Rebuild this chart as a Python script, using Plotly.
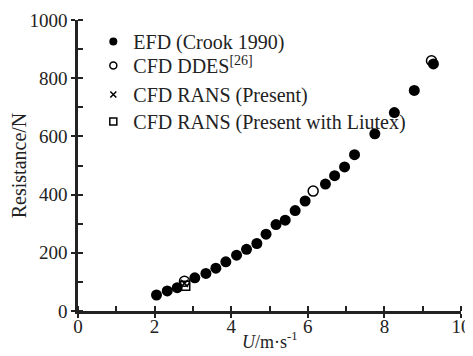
import plotly.graph_objects as go

efd_u = [2.05, 2.33, 2.59, 3.05, 3.34, 3.60, 3.86, 4.14, 4.40, 4.67, 4.91, 5.17, 5.41, 5.67, 5.93,
         6.46, 6.70, 6.96, 7.22, 7.75, 8.26, 8.78, 9.28]
efd_r = [55, 69, 80, 114, 129, 147, 169, 192, 212, 232, 264, 297, 312, 345, 378,
         436, 465, 495, 537, 609, 682, 758, 849]
ddes_u = [2.78, 6.14, 9.23]
ddes_r = [102, 412, 860]
rans_u = [2.78]
rans_r = [95]
liutex_u = [2.80]
liutex_r = [87]

names = ["EFD (Crook 1990)", "CFD DDES<sup>[26]</sup>", "CFD RANS (Present)", "CFD RANS (Present with Liutex)"]
x_ticks = [0, 2, 4, 6, 8, 10]
y_ticks = [0, 200, 400, 600, 800, 1000]

FONT = "Liberation Serif"
fig = go.Figure()

styles = [
    dict(symbol="circle", color="black", size=11, line=dict(width=0)),
    dict(symbol="circle-open", color="black", size=10, line=dict(width=1.5, color="black")),
    dict(symbol="x-thin-open", color="black", size=7, line=dict(width=1.5, color="black")),
    dict(symbol="square-open", color="black", size=9, line=dict(width=1.5, color="black")),
]
legend_styles = [
    dict(symbol="circle", color="black", size=8, line=dict(width=0)),
    dict(symbol="circle-open", color="black", size=7, line=dict(width=1.5, color="black")),
    dict(symbol="x-thin-open", color="black", size=6, line=dict(width=1.5, color="black")),
    dict(symbol="square-open", color="black", size=7, line=dict(width=1.5, color="black")),
]
data = [(efd_u, efd_r), (ddes_u, ddes_r), (rans_u, rans_r), (liutex_u, liutex_r)]

for (u, r), st, nm in zip(data, styles, names):
    fig.add_trace(go.Scatter(x=u, y=r, mode="markers", marker=st, showlegend=False, name=nm,
                             cliponaxis=False))
legend_ids = ["legend", "legend2", "legend3", "legend4"]
for st, nm, lg in zip(legend_styles, names, legend_ids):
    fig.add_trace(go.Scatter(x=[None], y=[None], mode="markers", marker=st, name=nm, legend=lg))

fig.add_annotation(text="<i>U</i>/m·s<sup>-1</sup>", xref="paper", yref="paper",
                   x=0.5, y=-0.103, xanchor="center", yanchor="middle", showarrow=False,
                   font=dict(family=FONT, size=18, color="#222"))

legend_tops = [0.9931, 0.9107, 0.811, 0.7182]
leg_common = dict(x=0.04, xanchor="left", yanchor="top",
                  font=dict(family=FONT, size=20, color="#222"),
                  bgcolor="rgba(0,0,0,0)", itemwidth=30)
fig.update_layout(**{lg: dict(y=yt, **leg_common) for lg, yt in zip(legend_ids, legend_tops)})

fig.update_layout(
    width=465, height=348,
    margin=dict(l=70, r=12, t=12, b=45, autoexpand=False),
    paper_bgcolor="white", plot_bgcolor="white",
    font=dict(family=FONT, size=19, color="#222"),
    xaxis=dict(range=[0, 10], tickvals=x_ticks, ticktext=[str(v) for v in x_ticks],
               showline=True, linecolor="#222", linewidth=2.5, mirror=False,
               ticks="outside", ticklen=4, tickwidth=2, tickcolor="#222",
               minor=dict(ticks="inside", dtick=1, tick0=0, ticklen=5, tickwidth=2, tickcolor="#222"),
               showgrid=False, zeroline=False, automargin=False, ticklabelstandoff=-8,
               tickfont=dict(family=FONT, size=19)),
    yaxis=dict(range=[0, 1000], tickvals=y_ticks, ticktext=[str(v) for v in y_ticks],
               showline=True, linecolor="#222", linewidth=2.5,
               ticks="outside", ticklen=4, tickwidth=2, tickcolor="#222",
               minor=dict(ticks="inside", dtick=100, tick0=0, ticklen=5, tickwidth=2, tickcolor="#222"),
               showgrid=False, zeroline=False, automargin=False,
               title=dict(text="Resistance/N", font=dict(family=FONT, size=20), standoff=0),
               tickfont=dict(family=FONT, size=19)),
)

fig.write_html("out.html")
